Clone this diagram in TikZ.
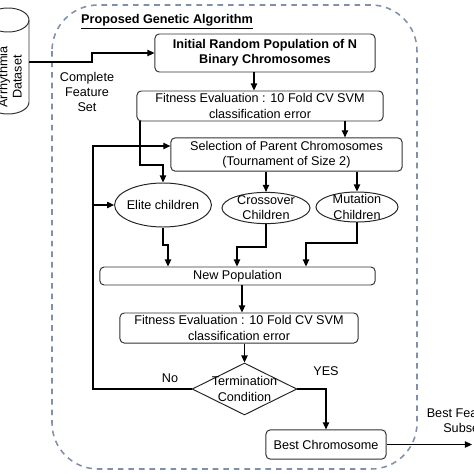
\documentclass[tikz,border=0pt]{standalone}
\usepackage{fontspec}
\setmainfont{Liberation Sans}
\usetikzlibrary{arrows.meta,shapes.geometric}
\begin{document}
\begin{tikzpicture}[x=0.025cm, y=-0.025cm,
  font=\fontsize{9}{10.8}\selectfont,
  box/.style={draw=black!80, line width=0.7pt, rounded corners=3pt, inner sep=0pt},
  kid/.style={draw=black!85, line width=0.7pt, ellipse, inner sep=0pt},
  arr/.style={line width=0.8pt, -{Triangle[length=5pt,width=4.5pt]}}]
\path[use as bounding box, clip] (0,0) rectangle (474,474);

% container of the algorithm
\draw[color={rgb,255:red,128;green,144;blue,170}, line width=1.1pt, dash pattern=on 4pt off 3.5pt, rounded corners=1.15cm]
  (52,5) rectangle (417,469);
\node[font=\fontsize{9}{10.8}\selectfont\bfseries] (title) at (167,22) {\underline{Proposed Genetic Algorithm}};

% data set
\draw[black!80, line width=0.7pt] (8,20) ellipse[x radius=21, y radius=12];
\draw[black!80, line width=0.7pt] (-13,20) -- (-13,102) arc[start angle=180, end angle=0, x radius=21, y radius=12] -- (29,20);
\node[rotate=90, align=center, font=\fontsize{9}{10}\selectfont] (dbtxt) at (10,77) {Arrhythmia\\Dataset};
\coordinate (db) at (29,62);

% boxes
\node[box, font=\fontsize{9}{10.8}\selectfont\bfseries, align=center, minimum width=5.5cm, minimum height=0.95cm] (b1) at (265,53) {Initial Random Population of N\\Binary Chromosomes};
\node[box, align=center, minimum width=6.15cm, minimum height=0.75cm] (b2) at (260,106) {Fitness Evaluation : 10 Fold CV SVM\\classification error};
\node[box, align=center, minimum width=5.78cm, minimum height=0.83cm] (b3) at (286.5,154.5) {Selection of Parent Chromosomes\\(Tournament of Size 2)};

\node[kid, minimum width=2.42cm, minimum height=1.1cm] (elite) at (163,205) {};
\node (elitetxt) at (elite) {Elite children};
\node[kid, minimum width=2.2cm, minimum height=0.78cm] (cross) at (266,208) {};
\node[align=center] (crosstxt) at (cross) {Crossover\\Children};
\node[kid, minimum width=2.05cm, minimum height=0.75cm] (mut) at (357,207) {};
\node[align=center] (muttxt) at (mut) {Mutation\\Children};

\node[box, minimum width=6.88cm, minimum height=0.45cm] (np) at (237.5,276) {New Population};
\node[box, align=center, minimum width=5.95cm, minimum height=0.75cm] (fit2) at (239,328) {Fitness Evaluation : 10 Fold CV SVM\\classification error};
\node[draw=black!85, line width=0.7pt, diamond, inner sep=0pt, minimum width=2.62cm, minimum height=1.3cm] (term) at (244.5,389) {};
\node[align=center] (termtxt) at (term) {Termination\\Condition};
\node[box, minimum width=3cm, minimum height=0.73cm] (best) at (326,444.5) {Best Chromosome};

% labels
\node[align=center] (cfs) at (87,92) {Complete\\Feature\\Set};
\node (yes) at (326,371) {YES};
\node (no) at (170,378) {No};
\node[align=center] (bfs) at (463,421) {Best Feature\\Subset};
\coordinate (out) at (472,444.5);

% connectors
\draw[arr] (db) -- (92,0 |- db) |- (b1.west);
\draw[arr] (254,0 |- b1.south) -- (254,0 |- b2.north);
\draw[arr] (345,0 |- b2.south) -- (345,0 |- b3.north);
\draw[arr] (140,0 |- b2.south) -- (140,165) -| (elite.north);
\draw[arr] (cross.north |- b3.south) -- (cross.north);
\draw[arr] (mut.north |- b3.south) -- (mut.north);
\draw[arr] (elite.south) -- (163,245) -| (168,0 |- np.north);
\draw[arr] (cross.south) -- (266,247) -| (237,0 |- np.north);
\draw[arr] (mut.south) -- (357,243) -| (306,0 |- np.north);
\draw[arr] (242,0 |- np.south) -- (242,0 |- fit2.north);
\draw[arr] (term.north |- fit2.south) -- (term.north);
\coordinate (loop) at (93,146);
\draw[arr] (term.west) -| (loop) -- (loop -| b3.west);
\draw[arr] (93,0 |- elite.west) -- (elite.west);
\draw[arr] (term.east) -| (best.north);
\draw[arr] (best.east) -- (out);
\end{tikzpicture}
\end{document}
